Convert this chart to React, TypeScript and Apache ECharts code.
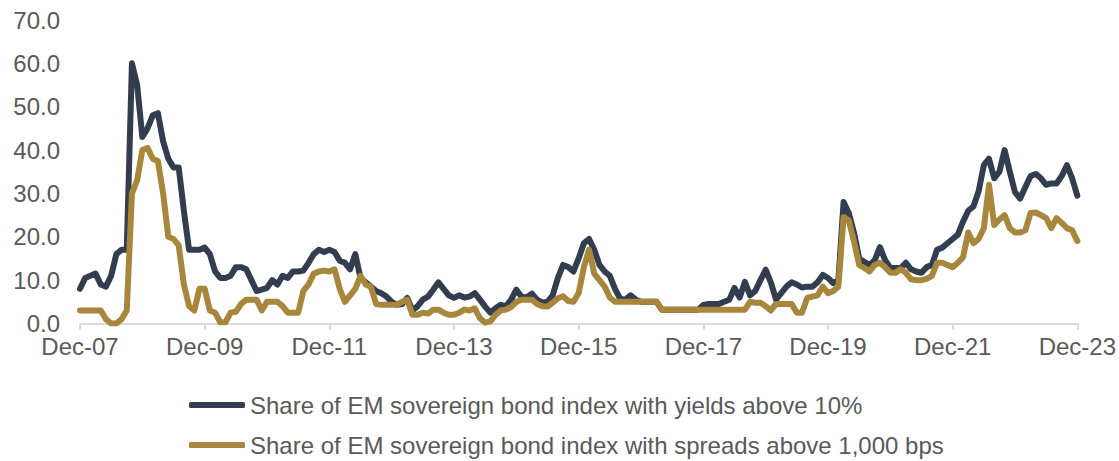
import React, { useEffect, useRef } from "react";
import * as echarts from "echarts";

// Monthly observations, Dec-07 .. Dec-23
const MONTHS = ["Jan", "Feb", "Mar", "Apr", "May", "Jun", "Jul", "Aug", "Sep", "Oct", "Nov", "Dec"];
const tickLabels = ["Dec-07", "Dec-09", "Dec-11", "Dec-13", "Dec-15", "Dec-17", "Dec-19", "Dec-21", "Dec-23"];

const yieldsAbove10 = [
  8, 10.5, 11, 11.5, 9, 8.5, 11, 16, 17, 17,
  60, 55, 43, 45, 48, 48.5, 42, 38, 36, 36,
  26, 17, 17, 17, 17.5, 16, 12, 10.5, 10.5, 11,
  13, 13, 12.5, 10, 7.5, 7.8, 8.2, 10, 9, 11,
  10.5, 12, 12, 12.2, 14, 16, 17, 16.5, 17, 16.5,
  14.5, 14, 12.5, 16, 10.5, 9.5, 8.5, 7.5, 7, 6.2,
  5, 4.3, 4.5, 5.9, 3, 4, 5.5, 6.2, 7.8, 9.5,
  8, 6.5, 5.9, 6.5, 6, 6.2, 7, 5.5, 3.9, 2.5,
  3.5, 4.3, 4, 5.5, 7.8, 6.2, 6, 6.9, 5.5, 4.8,
  5, 6.5, 10.5, 13.5, 13, 12, 15, 18.5, 19.5, 17,
  13.5, 12, 11, 8, 5.7, 5.5, 6.5, 5.5, 5, 5,
  5, 5, 3.2, 3.2, 3.2, 3.2, 3.2, 3.2, 3.2, 3.2,
  4.3, 4.5, 4.5, 4.5, 5, 5.5, 8.2, 6, 9.6, 6.5,
  7.5, 10, 12.4, 9.5, 5.5, 7, 8.5, 9.5, 9, 8.3,
  8.5, 8.5, 9.5, 11.2, 10.5, 9.3, 10, 28, 25.5, 21,
  15, 14.2, 13.5, 14.6, 17.6, 14.6, 12.8, 12.8, 12.8, 14,
  12.5, 12, 11.7, 13, 13.5, 17, 17.5, 18.5, 19.5, 20.5,
  23.5, 26, 27, 30.5, 36.5, 38, 33.5, 35, 40, 35,
  30.3, 28.8, 31.5, 34, 34.5, 33.5, 32, 32.3, 32.3, 34,
  36.5, 33.5, 29.5,
];

const spreadsAbove1000 = [
  3, 3, 3, 3, 3, 1, 0, 0, 1, 3,
  30, 33, 40, 40.5, 38, 37.5, 30, 20, 19.5, 18,
  9, 4, 3, 8, 8, 3, 2.5, 0.3, 0.3, 2.5,
  2.7, 4.5, 5.5, 5.5, 5.5, 3, 5, 5, 5, 4,
  2.5, 2.5, 2.5, 7.5, 9, 11.5, 12, 12.2, 12, 12.5,
  8, 5, 6.5, 8, 11, 9, 8.5, 4.5, 4.3, 4.3,
  4.3, 4.3, 5, 5.5, 2, 2, 2.5, 2.3, 3.2, 3.2,
  2.5, 2, 2, 2.5, 3.2, 3, 3.5, 1.2, 0.2, 0.5,
  2, 3, 3.2, 3.8, 5, 5.5, 5.5, 5.5, 4.5, 4,
  3.9, 4.8, 5.8, 6.3, 5.2, 5, 7, 13, 17, 11.5,
  10, 8.5, 6, 5, 5, 5, 5, 5, 5, 5,
  5, 5, 3.2, 3.2, 3.2, 3.2, 3.2, 3.2, 3.2, 3.2,
  3.2, 3.2, 3.2, 3.2, 3.2, 3.2, 3.2, 3.2, 3.2, 5,
  4.8, 4.8, 4, 3, 4.5, 4.5, 4.5, 4.5, 2.5, 2.5,
  5.9, 6.2, 6.5, 8.5, 7, 7.5, 8.5, 24.5, 23.8, 19,
  13.5, 12.8, 12, 13.5, 14, 13, 11.7, 11.7, 12.5, 11.7,
  10.2, 10, 10, 10.3, 11, 14, 14, 13.5, 13, 14,
  15.3, 21, 18.5, 19.5, 22, 32, 22.7, 24, 25, 22,
  21, 21, 21.5, 25.5, 25.6, 25, 24.3, 22, 24.3, 23.2,
  22, 21.5, 19,
];

const seriesNames = [
  "Share of EM sovereign bond index with yields above 10%",
  "Share of EM sovereign bond index with spreads above 1,000 bps",
];
const seriesColors = ["#323E50", "#A8873C"];

const categories: string[] = yieldsAbove10.map((_, i) => {
  const k = 11 + i;
  const y = 2007 + Math.floor(k / 12);
  return MONTHS[k % 12] + "-" + String(y % 100).padStart(2, "0");
});

const FONT = "'Liberation Sans', Arial, sans-serif";
const TEXT = "#595959";

export default function App() {
  const ref = useRef<HTMLDivElement>(null);
  useEffect(() => {
    if (!ref.current) return;
    const chart = echarts.init(ref.current, null, { renderer: "svg" });
    const showIdx = (i: number) => tickLabels.includes(categories[i]);
    const legendBase = {
      orient: "horizontal",
      left: 189,
      padding: 0,
      itemWidth: 56,
      itemHeight: 6,
      icon: "roundRect",
      textStyle: { color: TEXT, fontFamily: FONT, fontSize: 24, lineHeight: 26 },
    };
    chart.setOption({
      animation: false,
      grid: { left: 80, right: 41, top: 20, bottom: 137.5, containLabel: false },
      xAxis: {
        type: "category",
        data: categories,
        boundaryGap: false,
        axisLine: { show: true, lineStyle: { color: "#d9d9d9", width: 2 } },
        axisTick: { show: true, interval: (i: number) => showIdx(i), length: 6, lineStyle: { color: "#d9d9d9", width: 2 } },
        axisLabel: {
          interval: (i: number) => showIdx(i),
          margin: 11,
          color: TEXT,
          fontFamily: FONT,
          fontSize: 24,
        },
        splitLine: { show: false },
      },
      yAxis: {
        type: "value",
        min: 0,
        max: 70,
        interval: 10,
        axisLine: { show: false },
        axisTick: { show: false },
        splitLine: { show: false },
        axisLabel: {
          formatter: (v: number) => v.toFixed(1),
          margin: 20,
          color: TEXT,
          fontFamily: FONT,
          fontSize: 24,
        },
      },
      legend: [
        { ...legendBase, top: 392, data: [seriesNames[0]] },
        { ...legendBase, top: 432, data: [seriesNames[1]] },
      ],
      series: seriesNames.map((name, k) => ({
        name,
        type: "line",
        data: k === 0 ? yieldsAbove10 : spreadsAbove1000,
        showSymbol: false,
        symbol: "none",
        color: seriesColors[k],
        lineStyle: { width: 6, color: seriesColors[k], join: "round", cap: "round" },
      })),
    });
    return () => chart.dispose();
  }, []);
  return <div ref={ref} style={{ width: 1119, height: 461, position: "absolute", left: 0, top: 0 }} />;
}
